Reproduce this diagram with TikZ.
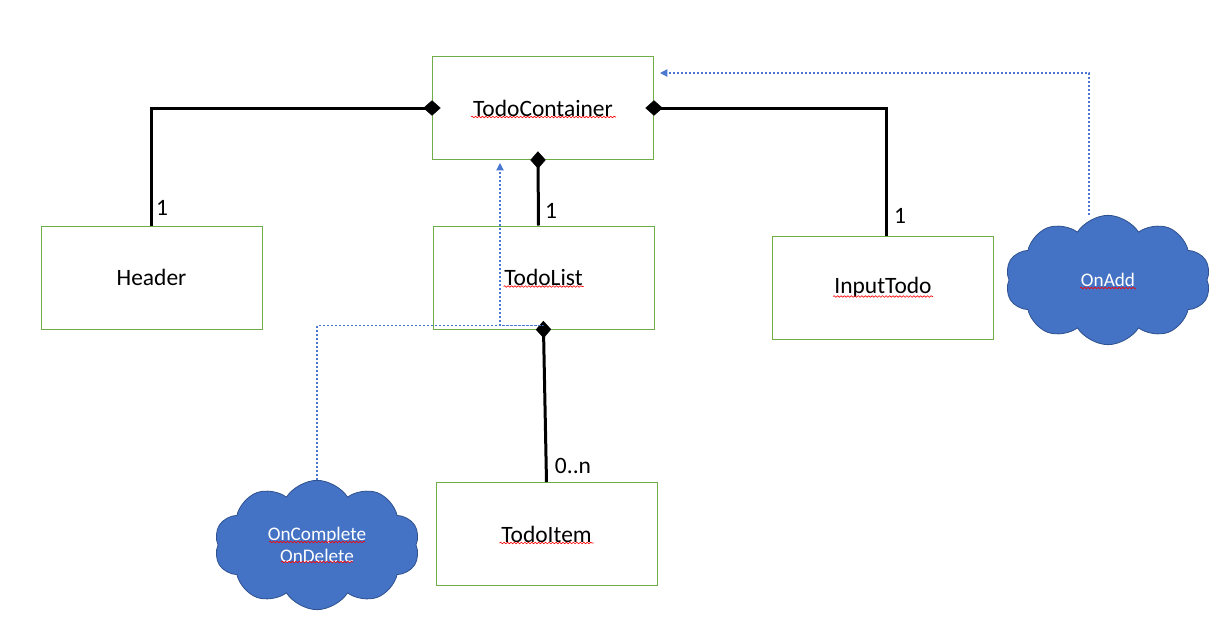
\documentclass[tikz,border=0pt]{standalone}
\usepackage{fontspec}
\setmainfont{Carlito}
\usetikzlibrary{arrows.meta,shapes.symbols,calc,decorations.pathmorphing}
\definecolor{boxgreen}{HTML}{70AD47}
\definecolor{cloudblue}{HTML}{4472C4}
\definecolor{cloudedge}{HTML}{2F528F}
\definecolor{depblue}{HTML}{4A78D0}
\begin{document}
\begin{tikzpicture}[x=0.75pt,y=-0.75pt,
  box/.style={draw=boxgreen, line width=0.75pt, minimum width=165.75pt, minimum height=77.25pt, inner sep=0pt, font=\fontsize{17.6}{21}\selectfont},
  cl/.style={cloud, cloud puffs=10, cloud puff arc=115, aspect=1.55, draw=cloudedge, fill=cloudblue, line width=0.6pt, text=white, minimum width=154pt, minimum height=97pt, inner sep=0pt, align=center, font=\fontsize{14.4}{17}\selectfont},
  comp/.style={line width=2.25pt},
  dia/.tip={Diamond[length=13pt,width=11.5pt,line width=0.4pt]},
  dep/.style={draw=depblue, line width=0.85pt, dash pattern=on 1.6pt off 1.4pt, -{Triangle[length=5.5pt,width=5.5pt]}},
  lbl/.style={font=\fontsize{17.6}{21}\selectfont, inner sep=0pt},
  squig/.style={draw=red, line width=0.45pt, decorate, decoration={snake, amplitude=0.6pt, segment length=2.6pt}}]
\useasboundingbox (0,0) rectangle (1222,632);
% boxes
\node[box] (tc) at (543,108) {TodoContainer};
\node[box] (hd) at (151.5,277.5) {Header};
\node[box] (tl) at (543.5,277.5) {TodoList};
\node[box] (it) at (883,287.5) {InputTodo};
\node[box] (ti) at (546.5,534) {TodoItem};
% clouds
\node[cl] (onadd) at (1108,280) {OnAdd};
\node[cl] (occ) at (317,545) {OnComplete\\OnDelete};
% composition connectors
\draw[comp, -{dia}, shorten >=-6.5pt] (hd.north) |- (tc.west);
\draw[comp, -{dia}, shorten >=-6.5pt] ($(tl.north)+(-5,0)$) -- ($(tc.south)+(-5,0)$);
\draw[comp, {dia}-, shorten <=-6.5pt] (tc.east) -| ($(it.north)+(3,0)$);
\draw[comp, {dia}-, shorten <=-6.5pt] (tl.south) -- (ti.north);
% multiplicities
\node[lbl] (m1) at (162,208) {1};
\node[lbl] (m2) at (551,211) {1};
\node[lbl] (m3) at (900,216) {1};
\node[lbl] (m4) at (573,466) {0..n};
% dependencies
\coordinate (tcin) at (660,73);
\coordinate (tcin2) at (500,163);
\draw[dep] ($(onadd.north)+(-19,0)$) |- (tcin);
\draw[dep] (occ.north) |- ([yshift=3pt]tl.south) -| (tcin2);
% spell-check squiggles
\draw[squig] ($(tc.center)+(-72,9)$) -- ++(145,0);
\draw[squig] ($(tl.center)+(-40,9)$) -- ++(80,0);
\draw[squig] ($(it.center)+(-50,9)$) -- ++(100,0);
\draw[squig] ($(ti.center)+(-47,9)$) -- ++(94,0);
\draw[squig] ($(onadd.center)+(-28,8)$) -- ++(56,0);
\draw[squig] ($(occ.center)+(-48,-3)$) -- ++(96,0);
\draw[squig] ($(occ.center)+(-36,17)$) -- ++(72,0);
\end{tikzpicture}
\end{document}
